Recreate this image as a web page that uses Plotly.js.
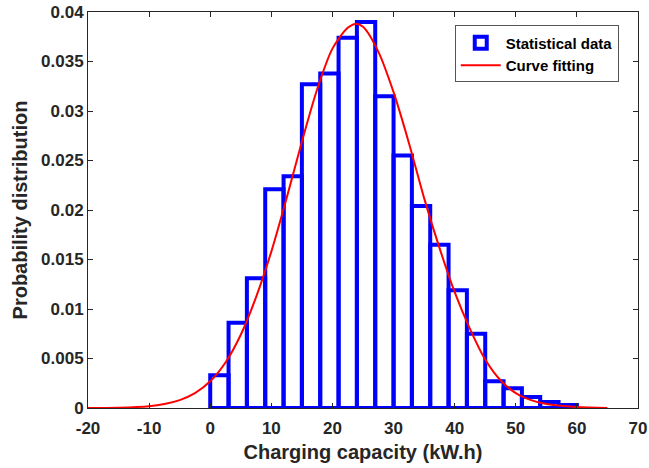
<!DOCTYPE html>
<html>
<head>
<meta charset="utf-8">
<script src="https://cdn.plot.ly/plotly-3.0.1.min.js"></script>
<style>html,body{margin:0;padding:0;background:#fff;}#chart{width:649px;height:468px;}</style>
</head>
<body>
<div id="chart"></div>
<script>
// Histogram bins (lower edges, width 3 kW.h) and probability densities
const binLeft = [0,3,6,9,12,15,18,21,24,27,30,33,36,39,42,45,48,51,54,57];
const binWidth = 3;
const binProb = [0.0033,0.0086,0.0131,0.0221,0.0234,0.0327,0.0338,0.0374,0.0390,0.0315,
                 0.0255,0.0204,0.0165,0.0119,0.0075,0.0027,0.0020,0.0011,0.0006,0.0003];
// Fitted curve
const curveX = [-20,-15,-10,-7.5,-5,-2.5,0,2.5,5,7.5,10,12.5,15,17.5,20,22.5,23.75,25,27.5,30,32.5,35,37.5,40,42.5,45,47.5,50,52.5,55,60,65];
const curveY = [0.00000,0.00003,0.00018,0.0004,0.0008,0.0015,0.0027,0.0046,0.0074,0.0112,0.0158,0.0212,0.0269,0.0322,0.0363,0.0384,0.0388,0.0385,0.0360,0.0319,0.0268,0.0212,0.0162,0.0117,0.0080,0.0049,0.0028,0.0015,0.0008,0.0004,0.0001,0.0000];
const xTicks = [-20,-10,0,10,20,30,40,50,60,70];
const xTickText = ['-20','-10','0','10','20','30','40','50','60','70'];
const yTicks = [0,0.005,0.01,0.015,0.02,0.025,0.03,0.035,0.04];
const yTickText = ['0','0.005','0.01','0.015','0.02','0.025','0.03','0.035','0.04'];

const ink = '#262626';
const fam = '"Liberation Sans", Arial, Helvetica, sans-serif';

const traces = [
  {
    type: 'bar', name: 'Statistical data',
    x: binLeft, y: binProb, width: binLeft.map(() => binWidth), offset: 0,
    marker: {color: 'rgba(255,255,255,0)', line: {color: '#0000FF', width: 4}},
    hoverinfo: 'skip'
  },
  {
    type: 'scatter', mode: 'lines', name: 'Curve fitting',
    x: curveX, y: curveY,
    line: {color: '#FF0000', width: 2, shape: 'spline', smoothing: 0.8},
    hoverinfo: 'skip'
  }
];

const layout = {
  width: 649, height: 468,
  margin: {l: 88, r: 11, t: 12, b: 60},
  paper_bgcolor: '#fff', plot_bgcolor: '#fff',
  bargap: 0,
  showlegend: true,
  legend: {
    x: 0.965, xanchor: 'right', y: 0.966, yanchor: 'top',
    bgcolor: '#fff', bordercolor: '#555', borderwidth: 1,
    font: {family: fam, size: 15, color: '#000', weight: 'bold'},
    itemwidth: 40, tracegroupgap: 0
  },
  xaxis: {
    range: [-20, 70], tickvals: xTicks, ticktext: xTickText, ticks: 'inside', ticklen: 5,
    tickcolor: ink, showline: true, linecolor: ink, linewidth: 1, mirror: 'ticks',
    showgrid: false, zeroline: false, ticklabelstandoff: 5,
    tickfont: {family: fam, size: 17, color: ink, weight: 'bold'},
    title: {text: 'Charging capacity (kW.h)', font: {family: fam, size: 20, color: ink, weight: 'bold'}, standoff: 7}
  },
  yaxis: {
    range: [0, 0.04], tickvals: yTicks, ticktext: yTickText, ticks: 'inside', ticklen: 5,
    tickcolor: ink, showline: true, linecolor: ink, linewidth: 1, mirror: 'ticks',
    showgrid: false, zeroline: false,
    tickfont: {family: fam, size: 17, color: ink, weight: 'bold'},
    title: {text: 'Probability distribution', font: {family: fam, size: 20, color: ink, weight: 'bold'}, standoff: 8}
  }
};

Plotly.newPlot('chart', traces, layout, {displayModeBar: false, staticPlot: true});
</script>
</body>
</html>
